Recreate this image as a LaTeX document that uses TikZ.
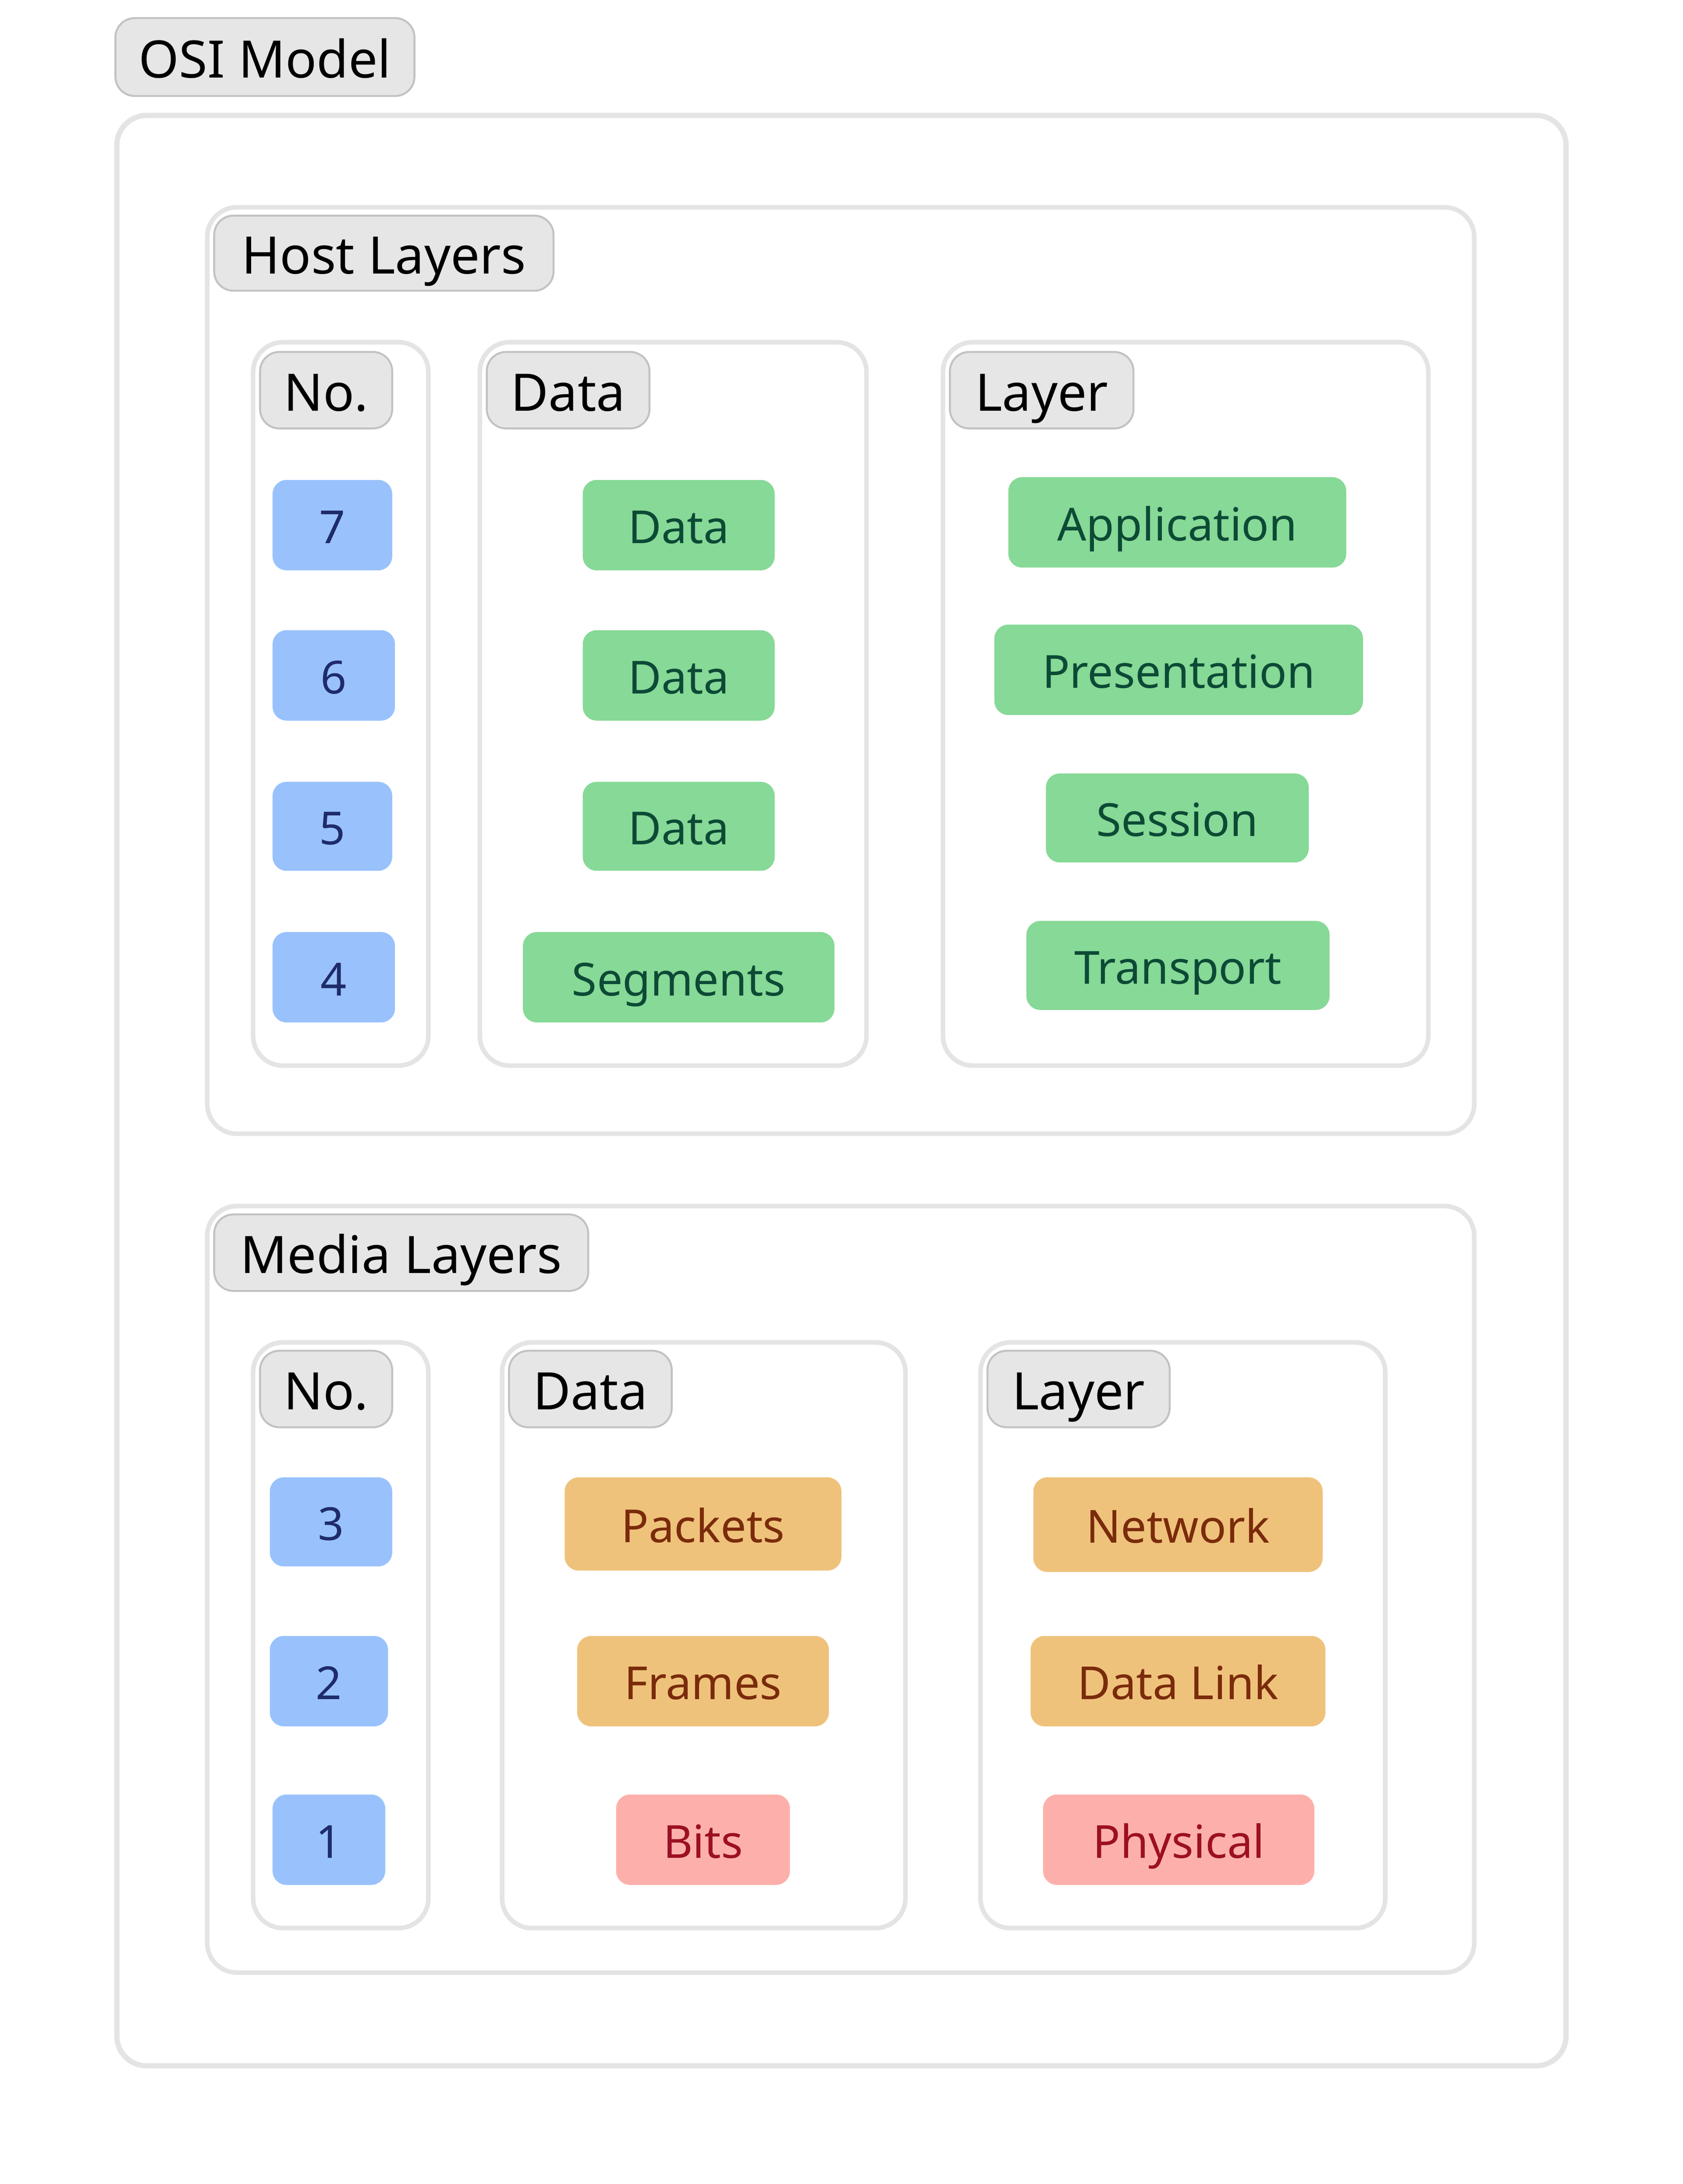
\documentclass[tikz,border=0pt]{standalone}
\usepackage{fontspec}
\setmainfont{Noto Sans}
\definecolor{cbord}{HTML}{E4E4E4}
\definecolor{lfill}{HTML}{E6E6E6}
\definecolor{lbord}{HTML}{C2C2C2}
\definecolor{bfill}{HTML}{99C2FD}
\definecolor{btext}{HTML}{1F2B6B}
\definecolor{gfill}{HTML}{86D996}
\definecolor{gtext}{HTML}{0C4A36}
\definecolor{ofill}{HTML}{EFC27B}
\definecolor{otext}{HTML}{7A2B0B}
\definecolor{rfill}{HTML}{FDB0AB}
\definecolor{rtext}{HTML}{9C0F24}
\newcommand\bx[7]{\node[#1, minimum width={(#5-#3)*0.7934pt}, minimum height={(#6-#4)*0.7934pt}] (#2) at ({(#3+#5)/2},{(#4+#6)/2}) {#7};}
\tikzset{
  framebox/.style={draw=cbord, line width=2.6pt, rounded corners=17pt, fill=white, inner sep=0pt},
  outerbox/.style={framebox, line width=3pt},
  tagbox/.style={draw=lbord, line width=1.1pt, fill=lfill, rounded corners=11pt, inner sep=0pt,
    font=\fontsize{29.5}{35}\selectfont, text=black, text height=23.6pt, text depth=0pt},
  cell/.style={draw=none, rounded corners=8pt, inner sep=0pt,
    font=\fontsize{26}{31}\selectfont, text height=21pt, text depth=0pt},
  bluebox/.style={cell, fill=bfill, text=btext},
  greenbox/.style={cell, fill=gfill, text=gtext},
  orangebox/.style={cell, fill=ofill, text=otext},
  redbox/.style={cell, fill=rfill, text=rtext},
}
\begin{document}
\begin{tikzpicture}[x=0.7934pt, y=-0.7934pt]
\useasboundingbox[fill=white] (0,0) rectangle (1210,1570);
% OSI model
\bx{tagbox}{osi}{83}{13}{298}{69}{OSI Model}
\bx{outerbox}{outer}{84}{83}{1126}{1485}{}
% Host layers
\bx{framebox}{host}{149}{149}{1060}{815}{}
\bx{tagbox}{hostlbl}{154}{155}{398}{209}{Host Layers}
\bx{framebox}{hno}{182}{246}{308}{766}{}
\bx{tagbox}{hnolbl}{187}{253}{282}{308}{No.}
\bx{framebox}{hdata}{345}{246}{623}{766}{}
\bx{tagbox}{hdatalbl}{350}{253}{467}{308}{Data}
\bx{framebox}{hlay}{678}{246}{1027}{766}{}
\bx{tagbox}{hlaylbl}{683}{253}{815}{308}{Layer}
\bx{bluebox}{n7}{196}{345}{282}{410}{7}
\bx{bluebox}{n6}{196}{453}{284}{518}{6}
\bx{bluebox}{n5}{196}{562}{282}{626}{5}
\bx{bluebox}{n4}{196}{670}{284}{735}{4}
\bx{greenbox}{d7}{419}{345}{557}{410}{Data}
\bx{greenbox}{d6}{419}{453}{557}{518}{Data}
\bx{greenbox}{d5}{419}{562}{557}{626}{Data}
\bx{greenbox}{d4}{376}{670}{600}{735}{Segments}
\bx{greenbox}{l7}{725}{343}{968}{408}{Application}
\bx{greenbox}{l6}{715}{449}{980}{514}{Presentation}
\bx{greenbox}{l5}{752}{556}{941}{620}{Session}
\bx{greenbox}{l4}{738}{662}{956}{726}{Transport}
% Media layers
\bx{framebox}{media}{149}{867}{1060}{1418}{}
\bx{tagbox}{medialbl}{154}{873}{423}{928}{Media Layers}
\bx{framebox}{mno}{182}{965}{308}{1386}{}
\bx{tagbox}{mnolbl}{187}{971}{282}{1026}{No.}
\bx{framebox}{mdata}{361}{965}{651}{1386}{}
\bx{tagbox}{mdatalbl}{366}{971}{483}{1026}{Data}
\bx{framebox}{mlay}{705}{965}{996}{1386}{}
\bx{tagbox}{mlaylbl}{710}{971}{841}{1026}{Layer}
\bx{bluebox}{n3}{194}{1062}{282}{1126}{3}
\bx{bluebox}{n2}{194}{1176}{279}{1241}{2}
\bx{bluebox}{n1}{196}{1290}{277}{1355}{1}
\bx{orangebox}{d3}{406}{1062}{605}{1129}{Packets}
\bx{orangebox}{d2}{415}{1176}{596}{1241}{Frames}
\bx{redbox}{d1}{443}{1290}{568}{1355}{Bits}
\bx{orangebox}{l3}{743}{1062}{951}{1130}{Network}
\bx{orangebox}{l2}{741}{1176}{953}{1241}{Data Link}
\bx{redbox}{l1}{750}{1290}{945}{1355}{Physical}
\end{tikzpicture}
\end{document}
